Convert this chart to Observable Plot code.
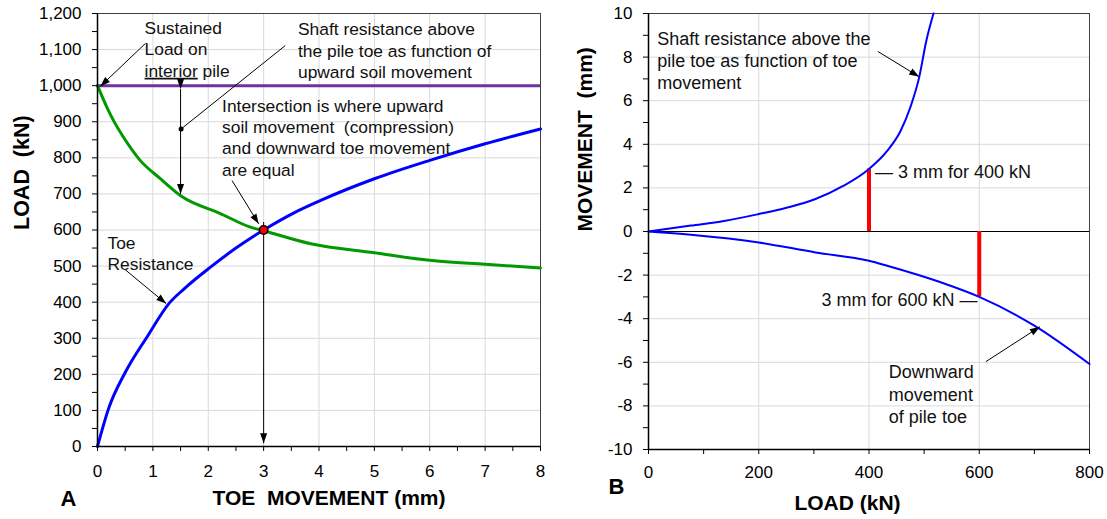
<!DOCTYPE html>
<html>
<head>
<meta charset="utf-8">
<script src="https://cdn.jsdelivr.net/npm/d3@7"></script>
<script src="https://cdn.jsdelivr.net/npm/@observablehq/plot@0.6"></script>
<style>
  body { margin: 0; background: #fff; }
  #wrap { position: relative; width: 1107px; height: 519px; overflow: hidden; }
  #panelA { position: absolute; left: 0; top: 0; }
  #panelB { position: absolute; left: 555px; top: 0; }
</style>
</head>
<body>
<div id="wrap"><div id="panelA"></div><div id="panelB"></div></div>
<script>
// ---------- Panel A data: load (kN) vs toe movement (mm) ----------
const toeMoveA = [0, 0.2, 0.5, 0.9, 1.3, 1.55, 2.04, 2.52, 3, 3.54, 4.03, 5, 6, 7, 8];
const toeLoadA = [0, 105, 205, 305, 398, 435, 497, 552, 600, 647, 682, 742, 793, 839, 880];
const shaftMoveA = [0, 0.17, 0.29, 0.47, 0.77, 1.13, 1.53, 2.2, 2.76, 3, 3.85, 5, 6, 7, 8];
const shaftLoadA = [1000, 940, 903, 857, 793, 743, 692, 647, 608, 598, 562, 537, 516, 505, 495];
const sustainedLoad = 1000;
const intersectionA = {x: 3, y: 600};
const xTicksA = d3.range(0, 8.01, 0.5);
const yTicksA = d3.range(0, 1201, 50);

// annotation texts and anchors (data units)
const notesA = [
  {x: 0.85, y: 1103, text: "Sustained\nLoad on\ninterior pile"},
  {x: 3.62, y: 1099, text: "Shaft resistance above\nthe pile toe as function of\nupward soil movement"},
  {x: 2.25, y: 858, text: "Intersection is where upward\nsoil movement\u00a0 (compression)\nand downward toe movement\nare equal"},
  {x: 0.18, y: 537, text: "Toe\nResistance"}
];
const arrowsA = [
  {x1: 0.866, y1: 1117, x2: 0.05, y2: 998},
  {x1: 2.43, y1: 737, x2: 2.91, y2: 617},
  {x1: 0.5, y1: 490, x2: 1.24, y2: 396},
  {x1: 3, y1: 622, x2: 3, y2: 9}
];
const doubleArrowA = [{x1: 1.5, y1: 991, x2: 1.5, y2: 700}];
const pointerA = [{x1: 1.51, y1: 880, x2: 3.39, y2: 1111}];

// ---------- Panel B data: movement (mm) vs load (kN) ----------
const shaftLoadB = [0, 77, 137, 200, 252, 303, 354, 400, 433, 457, 475, 491, 504, 517];
const shaftMoveB = [0, 0.27, 0.48, 0.8, 1.1, 1.49, 2.1, 2.87, 3.7, 4.6, 5.7, 7.07, 8.75, 10];
const toeLoadB = [0, 77, 200, 303, 400, 433, 530, 600, 700, 800];
const toeMoveB = [0, -0.15, -0.5, -0.96, -1.34, -1.57, -2.33, -3.0, -4.32, -6.08];
const markersB = [{x: 400, y: 2.87}, {x: 600, y: -3.0}];
const xTicksB = d3.range(0, 801, 100);
const yTicksB = d3.range(-10, 11, 1);
const notesStartB = [
  {x: 16, y: 7.88, text: "Shaft resistance above the\npile toe as function of toe\nmovement"},
  {x: 411, y: 2.76, text: "\u2014 3 mm for 400 kN"},
  {x: 436, y: -7.43, text: "Downward\nmovement\nof pile toe"}
];
const notesEndB = [
  {x: 597, y: -3.14, text: "3 mm for 600 kN \u2014"}
];
const arrowsB = [
  {x1: 416, y1: 8.26, x2: 491, y2: 7.1},
  {x1: 612, y1: -5.97, x2: 710, y2: -4.37}
];

const FONT = "'Liberation Sans', Arial, Helvetica, sans-serif";
const GRID = "#d9d9d9";

const rows = (xs, ys) => xs.map((x, i) => ({x, y: ys[i]}));

function fixMarkers(svg) {
  d3.select(svg).selectAll("marker").each(function () {
    const m = d3.select(this);
    const c = m.attr("stroke") || "black";
    m.attr("viewBox", "-11 -5 12 10").attr("markerWidth", 12).attr("markerHeight", 10)
      .attr("fill", c).attr("stroke", "none");
    m.select("path").attr("d", "M-10,-3.5L0,0L-10,3.5Z");
  });
}

const plotA = Plot.plot({
  width: 555, height: 519,
  marginLeft: 97, marginRight: 15, marginTop: 13, marginBottom: 73,
  x: {domain: [0, 8]},
  y: {domain: [0, 1200]},
  style: {fontFamily: FONT, fontSize: "17px", color: "#000", background: "transparent"},
  marks: [
    Plot.gridX(d3.range(0, 8.01, 1), {stroke: GRID, strokeOpacity: 1, strokeWidth: 1}),
    Plot.gridY(d3.range(0, 1201, 100), {stroke: GRID, strokeOpacity: 1, strokeWidth: 1}),
    Plot.frame({stroke: "#404040", strokeWidth: 1}),
    Plot.ruleY([sustainedLoad], {stroke: "#7030a0", strokeWidth: 3}),
    Plot.line(rows(shaftMoveA, shaftLoadA), {x: "x", y: "y", stroke: "#009900", strokeWidth: 3, curve: "monotone-x"}),
    Plot.line(rows(toeMoveA, toeLoadA), {x: "x", y: "y", stroke: "#0000ff", strokeWidth: 3, curve: "monotone-x"}),
    Plot.link(arrowsA, {x1: "x1", y1: "y1", x2: "x2", y2: "y2", stroke: "black", strokeWidth: 1, markerEnd: "arrow"}),
    Plot.link(doubleArrowA, {x1: "x1", y1: "y1", x2: "x2", y2: "y2", stroke: "black", strokeWidth: 1, markerStart: "arrow", markerEnd: "arrow"}),
    Plot.link(pointerA, {x1: "x1", y1: "y1", x2: "x2", y2: "y2", stroke: "black", strokeWidth: 1}),
    Plot.dot(pointerA, {x: "x1", y: "y1", r: 2.5, fill: "black"}),
    Plot.dot([intersectionA], {x: "x", y: "y", r: 4.2, fill: "red", stroke: "black", strokeWidth: 1.5}),
    Plot.text(notesA, {x: "x", y: "y", text: "text", textAnchor: "start", lineAnchor: "middle", lineHeight: 1.23, fontSize: 17.4, fill: "#111"}),
    Plot.ruleX([0], {stroke: "black", strokeWidth: 1.5}),
    Plot.ruleY([0], {stroke: "black", strokeWidth: 1.5}),
    Plot.axisX(xTicksA, {tickSize: 5, tickPadding: 13, tickFormat: d => Number.isInteger(d) ? `${d}` : "", label: null, fontSize: 17, stroke: "black"}),
    Plot.axisY(yTicksA, {tickSize: 5, tickPadding: 11, tickFormat: d => d % 100 === 0 ? d3.format(",")(d) : "", label: null, fontSize: 17, stroke: "black"}),
    Plot.text(["LOAD\u00a0\u00a0(kN)"], {frameAnchor: "left", dx: -75, rotate: -90, lineAnchor: "middle", fontSize: 21.5, fontWeight: "bold"}),
    Plot.text(["TOE\u00a0\u00a0MOVEMENT (mm)"], {frameAnchor: "bottom", dx: 10, dy: 52, lineAnchor: "middle", fontSize: 21, fontWeight: "bold"}),
    Plot.text(["A"], {frameAnchor: "bottom-left", dx: -37, dy: 52, lineAnchor: "middle", fontSize: 22, fontWeight: "bold"})
  ]
});

const plotB = Plot.plot({
  width: 552, height: 519,
  marginLeft: 93, marginRight: 18, marginTop: 13, marginBottom: 70,
  x: {domain: [0, 800]},
  y: {domain: [-10, 10]},
  style: {fontFamily: FONT, fontSize: "17px", color: "#000", background: "transparent"},
  marks: [
    Plot.gridX(d3.range(0, 801, 200), {stroke: GRID, strokeOpacity: 1, strokeWidth: 1}),
    Plot.gridY(d3.range(-10, 11, 2), {stroke: GRID, strokeOpacity: 1, strokeWidth: 1}),
    Plot.frame({stroke: "#404040", strokeWidth: 1}),
    Plot.ruleY([0], {stroke: "black", strokeWidth: 1.2}),
    Plot.ruleX(markersB, {x: "x", y1: 0, y2: "y", stroke: "#ff0000", strokeWidth: 4}),
    Plot.line(rows(shaftLoadB, shaftMoveB), {x: "x", y: "y", stroke: "#0000ff", strokeWidth: 2, curve: "monotone-x"}),
    Plot.line(rows(toeLoadB, toeMoveB), {x: "x", y: "y", stroke: "#0000ff", strokeWidth: 2, curve: "monotone-x"}),
    Plot.link(arrowsB, {x1: "x1", y1: "y1", x2: "x2", y2: "y2", stroke: "black", strokeWidth: 1, markerEnd: "arrow"}),
    Plot.text(notesStartB, {x: "x", y: "y", text: "text", textAnchor: "start", lineAnchor: "middle", lineHeight: 1.23, fontSize: 18, fill: "#111"}),
    Plot.text(notesEndB, {x: "x", y: "y", text: "text", textAnchor: "end", lineAnchor: "middle", fontSize: 18, fill: "#111"}),
    Plot.ruleX([0], {stroke: "black", strokeWidth: 1.5}),
    Plot.ruleY([-10], {stroke: "black", strokeWidth: 1.5}),
    Plot.axisX(xTicksB, {tickSize: 5, tickPadding: 11, tickFormat: d => d % 200 === 0 ? `${d}` : "", label: null, fontSize: 17, stroke: "black"}),
    Plot.axisY(yTicksB, {tickSize: 5, tickPadding: 11, tickFormat: d => d % 2 === 0 ? `${d}` : "", label: null, fontSize: 17, stroke: "black"}),
    Plot.text(["MOVEMENT\u00a0\u00a0(mm)"], {frameAnchor: "left", dx: -63, rotate: -90, lineAnchor: "middle", fontSize: 21, fontWeight: "bold"}),
    Plot.text(["LOAD (kN)"], {x: [361], frameAnchor: "bottom", dy: 54, lineAnchor: "middle", fontSize: 21, fontWeight: "bold"}),
    Plot.text(["B"], {frameAnchor: "bottom-left", dx: -40, dy: 37, lineAnchor: "middle", fontSize: 22, fontWeight: "bold"})
  ]
});

fixMarkers(plotA);
fixMarkers(plotB);

// underline "interior"
d3.select(plotA).selectAll("text, tspan")
  .filter(function () { return this.childElementCount === 0 && this.textContent === "interior pile"; })
  .each(function () {
    const t = d3.select(this);
    t.text(null);
    t.append("tspan").attr("text-decoration", "underline").style("text-decoration", "underline").text("interior");
    t.append("tspan").text(" pile");
  });

document.getElementById("panelA").appendChild(plotA);
document.getElementById("panelB").appendChild(plotB);
</script>
</body>
</html>
